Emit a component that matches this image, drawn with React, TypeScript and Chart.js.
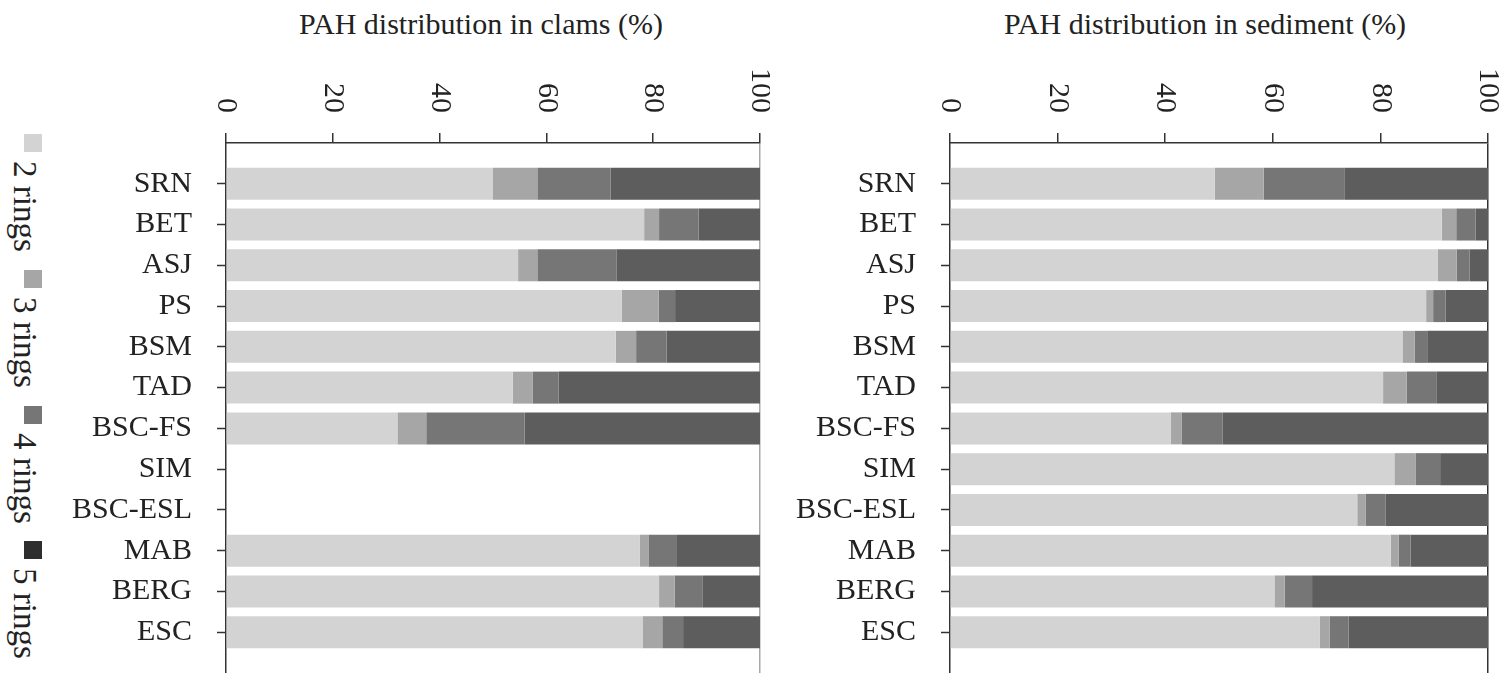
import React, { useEffect, useRef } from 'react';
import { Chart, registerables } from 'chart.js';

Chart.register(...registerables);

const categories = ['SRN', 'BET', 'ASJ', 'PS', 'BSM', 'TAD', 'BSC-FS', 'SIM', 'BSC-ESL', 'MAB', 'BERG', 'ESC'];
const seriesLabels = ['2 rings', '3 rings', '4 rings', '5 rings'];
const seriesColors = ['#d3d3d3', '#a6a6a6', '#767676', '#5d5d5d'];
const xTickValues = [0, 20, 40, 60, 80, 100];

const clamsTitle = 'PAH distribution in clams (%)';
const sedimentTitle = 'PAH distribution in sediment (%)';

const clams2 = [50.0, 78.3, 54.7, 74.1, 73.0, 53.7, 32.1, null, null, 77.5, 81.1, 78.0];
const clams3 = [8.3, 2.8, 3.6, 6.9, 3.8, 3.7, 5.4, null, null, 1.6, 2.9, 3.7];
const clams4 = [13.7, 7.4, 14.8, 3.1, 5.7, 4.9, 18.4, null, null, 5.2, 5.3, 3.9];
const clams5 = [28.0, 11.5, 26.9, 15.9, 17.5, 37.7, 44.1, null, null, 15.7, 10.7, 14.4];

const sed2 = [49.2, 91.4, 90.7, 88.5, 84.1, 80.5, 41.0, 82.6, 75.7, 81.9, 60.3, 68.7];
const sed3 = [9.1, 2.7, 3.5, 1.3, 2.3, 4.4, 2.1, 4.0, 1.6, 1.5, 1.9, 1.9];
const sed4 = [15.1, 3.6, 2.4, 2.3, 2.3, 5.6, 7.6, 4.5, 3.7, 2.2, 5.1, 3.5];
const sed5 = [26.6, 2.3, 3.4, 7.9, 11.3, 9.5, 49.3, 8.9, 19.0, 14.4, 32.7, 25.9];

const FONT = "'Liberation Serif', 'Times New Roman', Times, serif";
const TEXT = '#222222';
const AXIS = '#333333';

const rotatedTickLabels = {
  id: 'rotatedTickLabels',
  afterDraw(chart: any) {
    const s = chart.scales.x;
    const ctx = chart.ctx;
    const yEnd = chart.chartArea.top - 30;
    ctx.save();
    ctx.font = `30px ${FONT}`;
    ctx.fillStyle = TEXT;
    ctx.textAlign = 'right';
    ctx.textBaseline = 'middle';
    s.ticks.forEach((t: any) => {
      const x = s.getPixelForValue(t.value);
      ctx.save();
      ctx.translate(x, yEnd);
      ctx.rotate(Math.PI / 2);
      ctx.fillText(String(t.value), 0, 0);
      ctx.restore();
    });
    ctx.restore();
  },
};

type PanelProps = {
  series: (number | null)[][];
  left: number;
  width: number;
  yWidth: number;
  rightPad: number;
  edgeColor: string;
};

function Panel({ series, left, width, yWidth, rightPad, edgeColor }: PanelProps) {
  const ref = useRef<HTMLCanvasElement | null>(null);
  useEffect(() => {
    if (!ref.current) return;
    const chart = new Chart(ref.current, {
      type: 'bar',
      data: {
        datasets: series.map((vals, k) => ({
          label: seriesLabels[k],
          data: vals.map((v, i) => ({ x: v, y: i })),
          backgroundColor: seriesColors[k],
          borderWidth: 0,
          barPercentage: 0.785,
          categoryPercentage: 1,
        })),
      },
      options: {
        indexAxis: 'y',
        animation: false,
        responsive: false,
        devicePixelRatio: 1,
        layout: { padding: { left: 0, right: rightPad, top: 0, bottom: 0 } },
        plugins: {
          legend: { display: false },
          title: { display: false },
          tooltip: { enabled: false },
        },
        scales: {
          x: {
            type: 'linear',
            position: 'top',
            min: 0,
            max: 100,
            stacked: true,
            offset: false,
            afterBuildTicks: (s: any) => {
              s.ticks = xTickValues.map((v) => ({ value: v }));
            },
            afterFit: (s: any) => {
              s.height = 143;
              s.paddingLeft = 0;
              s.paddingRight = 0;
            },
            ticks: { display: false, autoSkip: false },
            grid: {
              offset: false,
              drawOnChartArea: true,
              drawTicks: true,
              tickLength: 10,
              tickColor: AXIS,
              tickWidth: 1.5,
              lineWidth: 1.5,
              color: (c: any) => (c.tick && c.tick.value === 100 ? edgeColor : 'rgba(0,0,0,0)'),
            },
            border: { display: true, color: AXIS, width: 1.5 },
          },
          y: {
            type: 'linear',
            min: -1,
            max: 12,
            reverse: true,
            stacked: true,
            offset: false,
            afterBuildTicks: (s: any) => {
              s.ticks = categories.map((_, i) => ({ value: i }));
            },
            afterFit: (s: any) => {
              s.width = yWidth;
              s.paddingTop = 0;
              s.paddingBottom = 0;
            },
            ticks: {
              autoSkip: false,
              padding: 25,
              color: TEXT,
              font: { family: FONT, size: 30 },
              callback: (v: any) => categories[Math.round(Number(v))],
            },
            grid: {
              offset: false,
              drawOnChartArea: false,
              drawTicks: true,
              tickLength: 9,
              tickColor: AXIS,
              tickWidth: 1.5,
            },
            border: { display: true, color: AXIS, width: 1.5 },
          },
        },
      } as any,
      plugins: [rotatedTickLabels],
    } as any);
    return () => chart.destroy();
  }, []);
  return (
    <canvas
      ref={ref}
      width={width}
      height={673}
      style={{ position: 'absolute', left, top: 0, width, height: 673 }}
    />
  );
}

function Legend() {
  return (
    <div
      style={{
        position: 'absolute',
        left: 6,
        top: 134,
        writingMode: 'vertical-rl',
        fontFamily: FONT,
        fontSize: 33,
        color: TEXT,
        whiteSpace: 'nowrap',
        lineHeight: '38px',
      }}
    >
      {seriesLabels.map((lab, k) => (
        <span key={lab} style={{ marginInlineEnd: 18, display: 'inline-block' }}>
          <span
            style={{
              display: 'inline-block',
              width: 18,
              height: 18,
              background: k === 3 ? '#2e2e2e' : seriesColors[k],
              verticalAlign: 'middle',
              marginInlineEnd: 9,
            }}
          />
          {lab}
        </span>
      ))}
    </div>
  );
}

function Title({ text, center }: { text: string; center: number }) {
  return (
    <div
      style={{
        position: 'absolute',
        left: center - 300,
        width: 600,
        top: 9,
        textAlign: 'center',
        fontFamily: FONT,
        fontSize: 30,
        lineHeight: '30px',
        color: TEXT,
        whiteSpace: 'nowrap',
      }}
    >
      {text}
    </div>
  );
}

export default function App() {
  return (
    <div style={{ position: 'absolute', left: 0, top: 0, width: 1512, height: 673, background: '#fff', overflow: 'hidden' }}>
      <Title text={clamsTitle} center={481} />
      <Title text={sedimentTitle} center={1205} />
      <Legend />
      <Panel
        series={[clams2, clams3, clams4, clams5]}
        left={40}
        width={730}
        yWidth={186}
        rightPad={10}
        edgeColor="#a8a8a8"
      />
      <Panel
        series={[sed2, sed3, sed4, sed5]}
        left={770}
        width={730}
        yWidth={180}
        rightPad={12}
        edgeColor={AXIS}
      />
    </div>
  );
}
